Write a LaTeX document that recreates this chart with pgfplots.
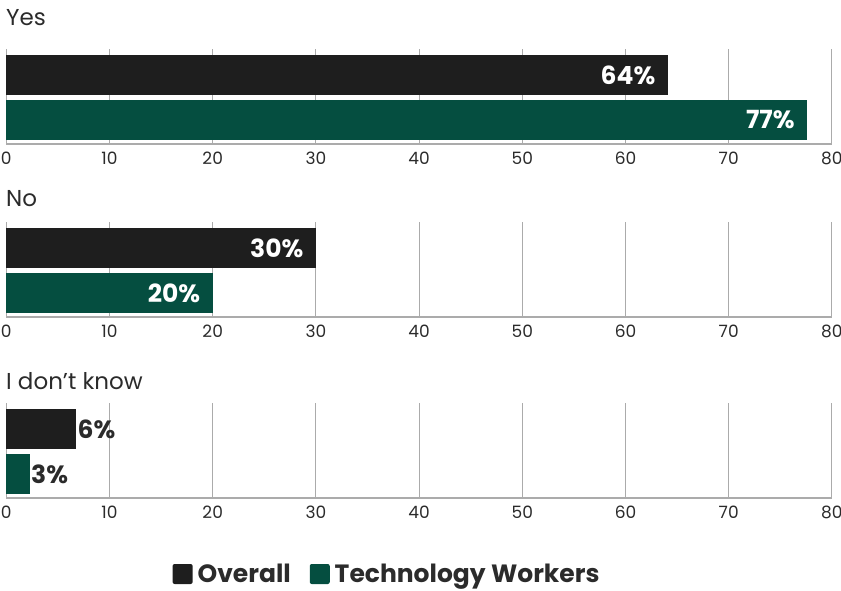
\documentclass[border=0pt]{standalone}
\usepackage{pgfplots}
\pgfplotsset{compat=1.18}
\usepackage{fontspec}
\setmainfont{Poppins}
\definecolor{cblack}{HTML}{1E1E1E}
\definecolor{cgreen}{HTML}{054E40}
\definecolor{cgrid}{HTML}{ABABAB}
\definecolor{ctext}{HTML}{2B2B2B}
\pgfplotsset{
 panel/.style={
  width=825.6pt, height=95pt, scale only axis,
  xmin=0, xmax=80, ymin=-0.533, ymax=1.578,
  xbar, bar width=40pt, bar shift=0pt,
  axis x line*=bottom, axis y line=none,
  xtick={0,10,...,80}, ytick=\empty,
  xmajorgrids, grid style={cgrid, line width=1pt},
  x axis line style={cgrid, line width=1.2pt, -},
  major tick length=0pt,
  xticklabel style={font=\fontsize{17}{17}\selectfont, text=ctext, inner sep=0pt, anchor=north, yshift=-8pt},
  /pgf/number format/assume math mode=true,
  point meta=explicit symbolic,
  nodes near coords,
  clip=false,
 },
 inlab/.style={every node near coord/.append style={font=\fontsize{25}{25}\selectfont\bfseries, anchor=east, xshift=-9pt, text=white}},
 outlab/.style={every node near coord/.append style={font=\fontsize{25}{25}\selectfont\bfseries, anchor=west, inner sep=1pt, text=ctext}},
 sqleg/.style={legend image code/.code={\fill[##1, rounded corners=2pt] (0pt,-10pt) rectangle (20pt,10pt);}},
}
\begin{document}
\begin{tikzpicture}
\path[use as bounding box] (0pt,0pt) rectangle (841pt,-591pt);
% Yes
\begin{axis}[panel, at={(6.3pt,-144pt)}, anchor=south west]
\addplot[fill=cblack, draw=none, inlab] coordinates {(64.1,1) [64\%]};
\addplot[fill=cgreen, draw=none, inlab] coordinates {(77.6,0) [77\%]};
\end{axis}
% No
\begin{axis}[panel, at={(6.3pt,-317pt)}, anchor=south west]
\addplot[fill=cblack, draw=none, inlab] coordinates {(30.0,1) [30\%]};
\addplot[fill=cgreen, draw=none, inlab] coordinates {(20.0,0) [20\%]};
\end{axis}
% I don't know
\begin{axis}[panel, at={(6.3pt,-498pt)}, anchor=south west,
  legend style={at={(0.463,-0.80)}, anchor=center, draw=none, fill=none, inner sep=0pt,
    legend columns=2, font=\fontsize{25}{25}\selectfont\bfseries, text=ctext,
    /tikz/every even column/.append style={column sep=14pt},
    nodes={inner xsep=5pt, inner ysep=0pt}}]
\addplot[fill=cblack, draw=none, outlab, sqleg] coordinates {(6.8,1) [6\%]};
\addlegendentry{Overall}
\addplot[fill=cgreen, draw=none, outlab, sqleg] coordinates {(2.3,0) [3\%]};
\addlegendentry{Technology Workers}
\end{axis}
\node[anchor=base west, inner sep=0pt, font=\fontsize{23}{23}\selectfont, text=ctext] at (6pt,-26pt) {Yes};
\node[anchor=base west, inner sep=0pt, font=\fontsize{23}{23}\selectfont, text=ctext] at (6pt,-207pt) {No};
\node[anchor=base west, inner sep=0pt, font=\fontsize{23}{23}\selectfont, text=ctext] at (6pt,-389pt) {I don’t know};
\end{tikzpicture}
\end{document}
